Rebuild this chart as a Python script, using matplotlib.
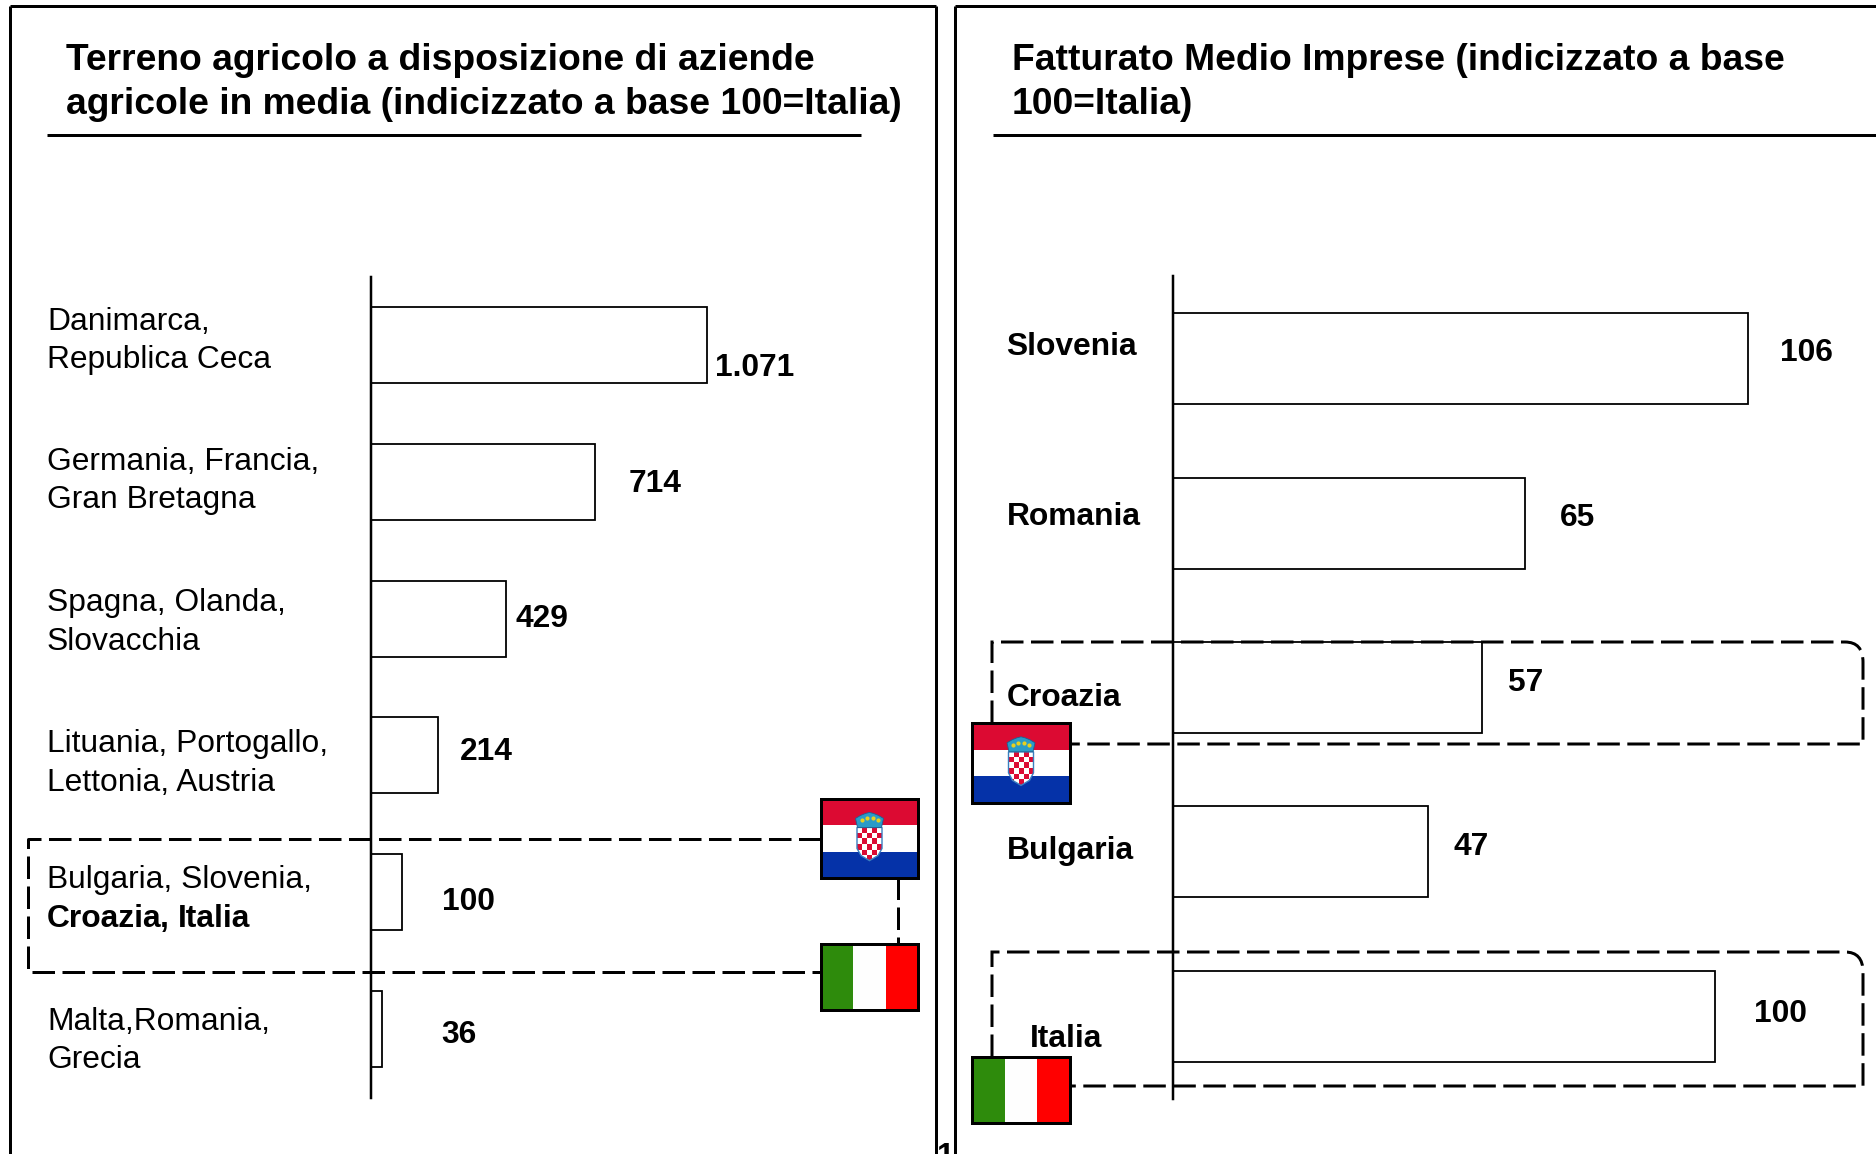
import numpy as np
import matplotlib
matplotlib.use("Agg")
import matplotlib.pyplot as plt
from matplotlib.patches import Rectangle, PathPatch, Polygon
from matplotlib.path import Path

plt.rcParams["font.family"] = ["Liberation Sans", "DejaVu Sans"]

W, H = 1876, 1154

# data
left_title = ["Terreno agricolo a disposizione di aziende",
              "agricole in media (indicizzato a base 100=Italia)"]
left_groups = [("Danimarca,", "Republica Ceca"),
               ("Germania, Francia,", "Gran Bretagna"),
               ("Spagna, Olanda,", "Slovacchia"),
               ("Lituania, Portogallo,", "Lettonia, Austria"),
               ("Bulgaria, Slovenia,", ""),
               ("Malta,Romania,", "Grecia")]
left_values = [1071, 714, 429, 214, 100, 36]
left_value_labels = ["1.071", "714", "429", "214", "100", "36"]

right_title = ["Fatturato Medio Imprese (indicizzato a base", "100=Italia)"]
right_names = ["Slovenia", "Romania", "Croazia", "Bulgaria", "Italia"]
right_values = [106, 65, 57, 47, 100]
right_value_labels = ["106", "65", "57", "47", "100"]

# label placement, in pixels from the bar end
left_offsets = [(8, 20), (33, -1), (10, -3), (22, -7), (40, 6), (59, 2)]
right_offsets = [(32, -9), (35, -9), (26, -8), (26, -8), (39, -6)]
left_label_y = [(322, 360), (462, 500), (603, 642), (744, 783), (880, 918), (1022, 1060)]
right_label_pos = [(1006, 347), (1007, 517), (1007, 698), (1007, 851), (1030, 1039)]

LW = 0.72  # points per pixel at dpi 100
TITLE_FS = 26.85
LABEL_FS = 22.9

fig = plt.figure(figsize=(W / 100, H / 100), dpi=100)


def px_axes(x0, y0, x1, y1):
    return fig.add_axes([x0 / W, 1 - y1 / H, (x1 - x0) / W, (y1 - y0) / H])


def bar_panel(box, values, labels, offsets, xmax, bar_h):
    ax = px_axes(*box)
    ax.patch.set_alpha(0)
    pos = np.arange(len(values))
    ax.barh(pos, values, height=bar_h, color="white", edgecolor="black", linewidth=1.8 * LW)
    ax.set_xlim(0, xmax)
    ax.set_ylim(len(values) - 0.5, -0.5)
    ax.set_xticks([])
    ax.set_yticks([])
    for s in ["top", "right", "bottom"]:
        ax.spines[s].set_visible(False)
    ax.spines["left"].set_linewidth(2.5 * LW)
    for i, (v, lab, off) in enumerate(zip(values, labels, offsets)):
        ax.annotate(lab, xy=(v, i), xytext=(off[0] * LW, -off[1] * LW), textcoords="offset points",
                    ha="left", va="center_baseline", fontsize=LABEL_FS, fontweight="bold")
    return ax


ax_left = bar_panel((371, 276.5, 936, 1097.5), left_values, left_value_labels, left_offsets, 1799, 0.555)
ax_right = bar_panel((1172.5, 276.5, W, 1098.5), right_values, right_value_labels, right_offsets, 129.6, 0.553)

# top layer for frames, flags and text
top = px_axes(0, 0, W, H)
top.set_xlim(0, W)
top.set_ylim(H, 0)
top.axis("off")
top.patch.set_alpha(0)


def solid(xs, ys, lw=3.0):
    top.plot(xs, ys, color="black", lw=lw * LW, solid_capstyle="butt", zorder=3)


def dashed(xs, ys):
    top.plot(xs, ys, color="black", lw=3 * LW, linestyle=(0, (7.5, 2.5)), dash_capstyle="butt", zorder=3)


def rounded_box(x0, y0, x1, y1, flag_top, flag_right):
    verts = [(x0, flag_top), (x0, y0), (x1 - 18, y0), (x1, y0), (x1, y0 + 20), (x1, y1), (flag_right, y1)]
    codes = [Path.MOVETO, Path.LINETO, Path.LINETO, Path.CURVE3, Path.CURVE3, Path.LINETO, Path.LINETO]
    top.add_patch(PathPatch(Path(verts, codes), fc="none", ec="black", lw=3 * LW,
                            linestyle=(0, (7.5, 2.5)), capstyle="butt", zorder=3))


def flag_croatia(x0, y0, x1, y1):
    h = (y1 - y0) / 3
    for k, c in enumerate(["#DC0A32", "white", "#0532A8"]):
        top.add_patch(Rectangle((x0, y0 + k * h), x1 - x0, h, fc=c, ec="none", zorder=4))
    cx = (x0 + x1) / 2
    sh_top = y0 + 0.36 * (y1 - y0)
    sh_bot = y0 + 0.78 * (y1 - y0)
    sh_w = 25
    cells = np.ones((6, 5, 3))
    cells[(np.indices((6, 5)).sum(axis=0) % 2) == 1] = (0.86, 0.04, 0.2)
    img = top.imshow(cells, extent=(cx - sh_w / 2, cx + sh_w / 2, sh_bot, sh_top), interpolation="nearest",
                     aspect="auto", zorder=5)
    outline = Polygon([(cx - sh_w / 2, sh_top), (cx + sh_w / 2, sh_top), (cx + sh_w / 2, sh_top + 21),
                       (cx + sh_w / 2 - 4, sh_bot - 5), (cx, sh_bot), (cx - sh_w / 2 + 4, sh_bot - 5),
                       (cx - sh_w / 2, sh_top + 21)], closed=True, fc="none", ec="#3A7FC0", lw=1.0, zorder=6)
    top.add_patch(outline)
    img.set_clip_path(outline)
    crown = Polygon([(cx - 14, sh_top - 9), (cx - 9, sh_top - 12), (cx - 4, sh_top - 14), (cx, sh_top - 15),
                     (cx + 4, sh_top - 14), (cx + 9, sh_top - 12), (cx + 14, sh_top - 9), (cx + 12, sh_top),
                     (cx - 12, sh_top)], closed=True, fc="#2A9BC8", ec="#1F5F8F", lw=0.6, zorder=6)
    top.add_patch(crown)
    top.scatter([cx - 8, cx - 3, cx + 3, cx + 8], [sh_top - 7, sh_top - 9, sh_top - 9, sh_top - 7],
                s=9, c="#E8D020", lw=0, zorder=7)
    top.add_patch(Rectangle((x0, y0), x1 - x0, y1 - y0, fc="none", ec="black", lw=3 * LW, zorder=8))


def flag_italy(x0, y0, x1, y1):
    w = (x1 - x0) / 3
    for k, c in enumerate(["#2E8B0C", "#FEFEFE", "#FF0000"]):
        top.add_patch(Rectangle((x0 + k * w, y0), w, y1 - y0, fc=c, ec="none", zorder=4))
    top.add_patch(Rectangle((x0, y0), x1 - x0, y1 - y0, fc="none", ec="black", lw=3 * LW, zorder=8))


# panel frames and title rules
solid([10, 10], [H, 6])
solid([10, 936], [6, 6])
solid([936, 936], [6, H])
solid([955, 955], [H, 6])
solid([955, W], [6, 6])
solid([47, 861], [135, 135])
solid([993, W], [135, 135])

# dashed highlights
dashed([821, 28, 28, 821], [839, 839, 971.5, 971.5])
dashed([898, 898], [877, 943])
rounded_box(992, 642, 1863, 744, 723, 1070)
rounded_box(992, 952, 1863, 1086, 1057, 1070)

flag_croatia(821, 799, 918, 878)
flag_italy(821, 944, 918, 1010)
flag_croatia(972, 723, 1070, 803)
flag_italy(972, 1057, 1070, 1123)

# titles
for line, y in zip(left_title, [61, 105]):
    top.text(66, y, line, fontsize=TITLE_FS, fontweight="bold", va="center", zorder=9)
for line, y in zip(right_title, [61, 105]):
    top.text(1012, y, line, fontsize=TITLE_FS, fontweight="bold", va="center", zorder=9)

# left category labels
for (l1, l2), (y1, y2) in zip(left_groups, left_label_y):
    top.text(47, y1, l1, fontsize=LABEL_FS, va="center", zorder=9)
    if l2:
        top.text(47, y2, l2, fontsize=LABEL_FS, va="center", zorder=9)

# mixed bold line
r = fig.canvas.get_renderer()
x = 47
for part, weight, gap in [("Croazia", "bold", -2), (",", "bold", 0), (" ", "normal", 9), ("Italia", "bold", 0)]:
    t = top.text(x, 927, part, fontsize=LABEL_FS, fontweight=weight, va="baseline", zorder=9)
    if part == " ":
        x += gap
    else:
        x += t.get_window_extent(r).width + gap

# right category labels
for name, (x, y) in zip(right_names, right_label_pos):
    top.text(x, y, name, fontsize=LABEL_FS, fontweight="bold", va="center", zorder=9)

# page number cut off by the panels
clip = Rectangle((938, 1130), 15, 30, transform=top.transData)
pn = top.text(937, 1165, "10", fontsize=LABEL_FS, fontweight="bold", va="baseline", zorder=2, clip_on=True)
pn.set_clip_path(clip)

fig.savefig("out.png", dpi=100)
